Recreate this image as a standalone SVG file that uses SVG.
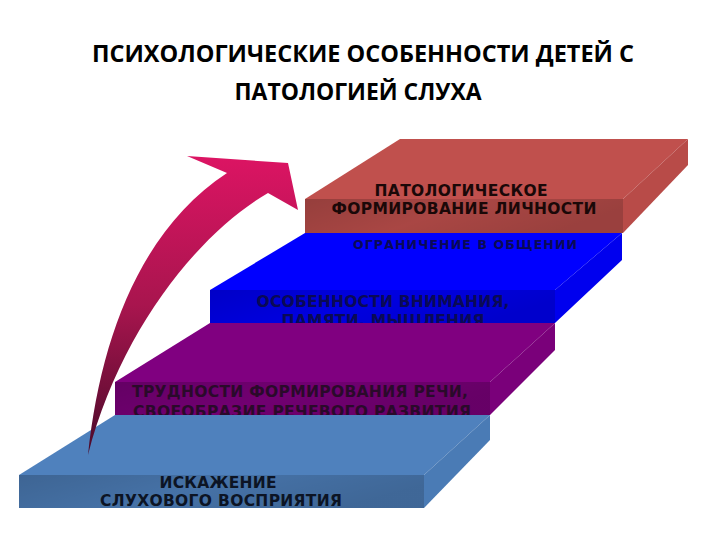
<svg xmlns="http://www.w3.org/2000/svg" width="720" height="540" viewBox="0 0 720 540">
<style>
.t{font-family:"DejaVu Sans",sans-serif;font-weight:bold;font-size:15.5px}
.ttl{font-family:"Open Sans","Noto Sans",sans-serif;font-weight:bold;font-size:23px;fill:#000}
</style>
<defs>
<linearGradient id="ga" x1="0" y1="0" x2="0" y2="1">
<stop offset="0" stop-color="#dc1463"/>
<stop offset="0.5" stop-color="#a8154e"/>
<stop offset="1" stop-color="#4a0a2a"/>
</linearGradient>
<linearGradient id="fr" x1="0" y1="0" x2="1" y2="0.3">
<stop offset="0" stop-color="#000" stop-opacity="0.22"/>
<stop offset="0.5" stop-color="#000" stop-opacity="0.12"/>
<stop offset="1" stop-color="#000" stop-opacity="0.2"/>
</linearGradient>
</defs>
<rect width="720" height="540" fill="#fff"/>
<text class="ttl" x="363" y="62" text-anchor="middle" textLength="542" lengthAdjust="spacingAndGlyphs">ПСИХОЛОГИЧЕСКИЕ ОСОБЕННОСТИ ДЕТЕЙ С</text>
<text class="ttl" x="358" y="100" text-anchor="middle" textLength="247" lengthAdjust="spacingAndGlyphs">ПАТОЛОГИЕЙ СЛУХА</text>

<g id="step4">
<polygon points="305,199 400,139 688,139 623,199" fill="#c0504d"/>
<polygon points="623,199 688,139 688,165 623,233" fill="#b84b48"/>
<rect x="305" y="199" width="318" height="34" fill="#c0504d"/>
<rect x="305" y="199" width="318" height="34" fill="url(#fr)"/>
<text class="t" x="461" y="196" text-anchor="middle" fill="#1a0808" textLength="173" lengthAdjust="spacing">ПАТОЛОГИЧЕСКОЕ</text>
<text class="t" x="464" y="214" text-anchor="middle" fill="#1a0808" textLength="265" lengthAdjust="spacing">ФОРМИРОВАНИЕ ЛИЧНОСТИ</text>
</g>

<g id="step3">
<polygon points="210,290 305,233 622,233 555,290" fill="#0000ff"/>
<polygon points="555,290 622,233 622,260 555,323" fill="#0000ee"/>
<rect x="210" y="290" width="345" height="33" fill="#0000ff"/>
<rect x="210" y="290" width="345" height="33" fill="url(#fr)"/>
<text x="465" y="249" text-anchor="middle" fill="#0a0a55" font-family="DejaVu Sans,sans-serif" font-weight="bold" font-size="12.5" textLength="224" lengthAdjust="spacing">ОГРАНИЧЕНИЕ В ОБЩЕНИИ</text>
<text class="t" x="383" y="307" text-anchor="middle" fill="#0a0a55" textLength="253" lengthAdjust="spacing">ОСОБЕННОСТИ ВНИМАНИЯ,</text>
<text class="t" x="383" y="326" text-anchor="middle" fill="#0a0a55" textLength="203" lengthAdjust="spacing">ПАМЯТИ, МЫШЛЕНИЯ</text>
</g>

<g id="step2">
<polygon points="115,382 210,323 555,323 490,382" fill="#800080"/>
<polygon points="490,382 555,323 555,350 490,415" fill="#7a007a"/>
<rect x="115" y="382" width="375" height="33" fill="#800080"/>
<rect x="115" y="382" width="375" height="33" fill="url(#fr)"/>
<text class="t" x="300" y="397" text-anchor="middle" fill="#2a0a2a" textLength="336" lengthAdjust="spacing">ТРУДНОСТИ ФОРМИРОВАНИЯ РЕЧИ,</text>
<text class="t" x="302" y="417" text-anchor="middle" fill="#2a0a2a" textLength="338" lengthAdjust="spacing">СВОЕОБРАЗИЕ РЕЧЕВОГО РАЗВИТИЯ</text>
</g>

<g id="step1">
<polygon points="19,475 115,415 490,415 424,475" fill="#4f81bd"/>
<polygon points="424,475 490,415 490,440 424,508" fill="#4a7bb5"/>
<rect x="19" y="475" width="405" height="33" fill="#4f81bd"/>
<rect x="19" y="475" width="405" height="33" fill="url(#fr)"/>
<text class="t" x="218" y="488" text-anchor="middle" fill="#0c1424" textLength="117" lengthAdjust="spacing">ИСКАЖЕНИЕ</text>
<text class="t" x="221" y="506" text-anchor="middle" fill="#0c1424" textLength="242" lengthAdjust="spacing">СЛУХОВОГО ВОСПРИЯТИЯ</text>
</g>

<g id="connectors">
<path id="arrow" d="M88,455 C100,340 140,230 227,173 L187,156 L288,163 L298,210 L268,193 C200,232 120,330 88,455 Z" fill="url(#ga)"/>
</g>
</svg>
